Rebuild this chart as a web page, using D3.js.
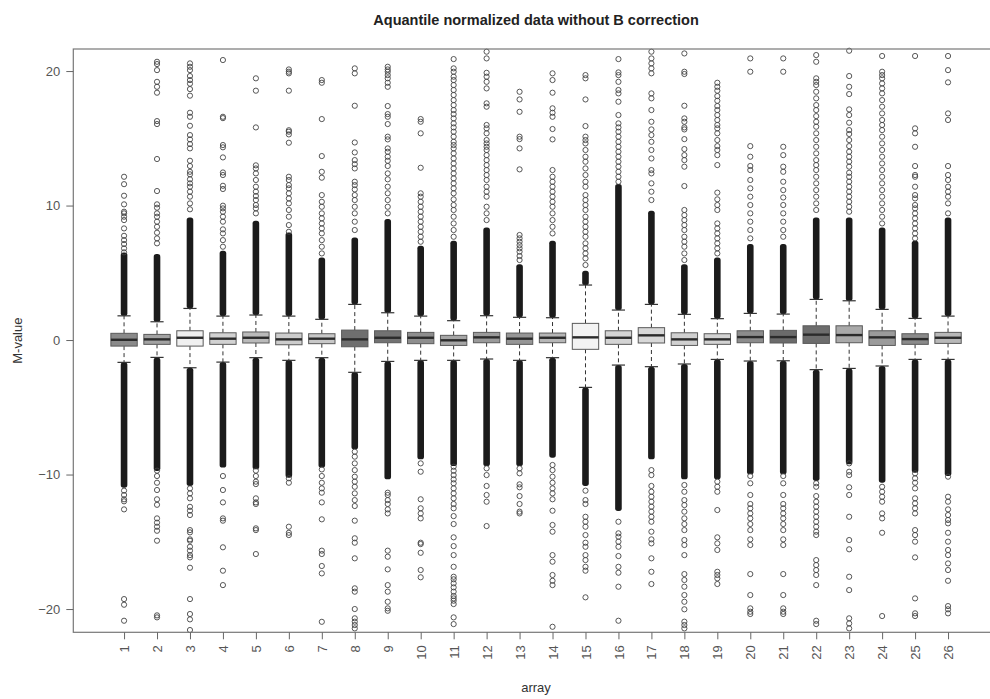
<!DOCTYPE html>
<html>
<head>
<meta charset="utf-8">
<script src="https://cdn.jsdelivr.net/npm/d3@7"></script>
<style>
  html, body { margin: 0; padding: 0; background: #fff; }
  svg { display: block; font-family: "Liberation Sans", Arial, sans-serif; }
</style>
</head>
<body>
<svg id="chart" width="990" height="699"></svg>
<script>
// one box per array
const arrays = ["1","2","3","4","5","6","7","8","9","10","11","12","13",
                "14","15","16","17","18","19","20","21","22","23","24","25","26"];

const q1 = [-0.45,-0.32,-0.45,-0.32,-0.22,-0.35,-0.27,-0.5,-0.2,-0.27,-0.4,-0.2,-0.32,
            -0.2,-0.69,-0.32,-0.22,-0.4,-0.32,-0.2,-0.22,-0.25,-0.2,-0.4,-0.32,-0.25];
const medians = [0.02,0.05,0.17,0.1,0.17,0.05,0.1,0.05,0.17,0.17,-0.02,0.2,0.1,
                 0.17,0.2,0.17,0.35,0.05,0.05,0.22,0.22,0.4,0.37,0.2,0.07,0.17];
const q3 = [0.5,0.42,0.69,0.54,0.6,0.52,0.47,0.74,0.69,0.57,0.35,0.57,0.52,
            0.52,1.24,0.69,0.92,0.54,0.47,0.69,0.72,1.06,1.06,0.69,0.47,0.57];
const whiskerLow = [-1.66,-1.29,-2.06,-1.64,-1.31,-1.51,-1.31,-2.4,-1.59,-1.51,-1.51,-1.41,-1.51,
                    -1.31,-3.52,-1.86,-1.98,-1.78,-1.44,-1.56,-1.54,-2.2,-2.11,-1.93,-1.44,-1.44];
const whiskerHigh = [1.8,1.36,2.35,1.78,1.86,1.78,1.54,2.65,2.03,1.78,1.44,1.81,1.69,
                     1.66,4.09,2.23,2.65,1.91,1.59,1.98,1.93,3.02,2.92,2.28,1.61,1.78];

// where the outliers are so many that they merge into a solid column
const denseHigh = [6.32,6.2,8.92,6.44,8.67,7.81,5.95,7.43,8.8,6.82,7.19,8.18,5.45,
                   7.19,4.96,11.4,9.42,5.45,5.95,6.94,6.94,8.92,8.92,8.18,7.19,8.92];
const denseLow = [-10.78,-9.54,-10.65,-9.29,-9.42,-10.04,-9.29,-7.93,-10.16,-8.67,-9.17,-9.17,-9.17,
                  -8.55,-10.65,-12.51,-8.67,-10.16,-10.16,-9.79,-9.79,-10.28,-9.05,-10.41,-9.67,-9.91];

// the single outliers beyond the solid columns
const outliersHigh = [
  [12.14,11.59,10.73,10.09,9.54,9.42,9.17,8.92,8.3,7.75,7.43,7.14,6.82,6.52],
  [20.69,20.52,20.07,19.2,18.83,18.39,16.28,16.06,13.46,11.08,10.09,9.84,9.42,9.17,8.8,8.42,7.98,7.56,7.19],
  [20.57,20.32,20.07,19.63,19.33,19.06,18.66,18.17,16.9,16.6,15.93,15.24,14.92,14.57,14.25,13.33,12.94,12.51,12.32,11.95,11.65,11.4,11.03,10.66,10.16,9.72],
  [20.82,16.6,16.5,14.5,14.33,13.58,12.46,12.27,11.47,11.23,9.99,9.79,9.54,9.17,8.8,8.23,7.93,7.43,6.94],
  [19.46,18.54,15.81,12.99,12.76,12.39,11.9,11.4,11.03,10.71,10.41,10.04,9.79,9.42],
  [20.12,19.95,19.83,18.54,15.6,15.49,15.29,14.67,12.14,11.9,11.52,11.28,10.91,10.53,10.16,9.67,9.17,8.55,8.05],
  [19.33,19.13,16.43,13.68,12.51,12.07,10.78,10.28,9.91,9.42,9.05,8.67,8.3,7.93,7.43,6.94,6.44],
  [20.2,19.83,17.42,14.69,13.95,13.38,13.08,12.76,11.77,11.52,11.2,10.78,10.41,9.91,9.42,8.8,8.18],
  [20.32,20.12,19.95,19.7,19.46,19.13,18.83,17.4,16.8,16.6,16.06,15.12,14.92,14.25,14.0,13.63,13.33,12.94,12.39,11.95,11.4,10.91,10.41,9.91,9.42],
  [16.43,16.23,15.37,12.81,10.91,10.66,10.28,9.91,9.54,9.17,8.8,8.42,8.05,7.68,7.31],
  [20.89,20.2,19.95,19.58,19.33,18.96,18.59,18.22,17.84,17.47,17.1,16.8,16.48,16.11,15.81,15.49,15.12,14.74,14.5,14.25,13.88,13.5,13.13,12.76,12.39,12.02,11.65,11.28,10.91,10.46,10.04,9.67,9.17,8.67,8.18,7.68],
  [21.44,20.94,19.87,19.58,19.2,18.71,17.6,17.35,15.99,15.74,15.37,14.87,14.62,14.37,14.13,13.75,13.38,13.01,12.64,12.27,11.9,11.4,11.03,10.66,9.91,9.42,8.92],
  [18.46,17.89,16.97,15.12,14.94,14.25,12.69,7.81,7.56,7.31,7.06,6.82,6.57,6.25,5.95],
  [19.83,19.33,18.39,17.23,16.9,16.6,15.69,14.92,12.64,12.14,11.77,11.4,11.03,10.66,10.28,9.91,9.42,8.92,8.42,7.93],
  [19.7,19.46,17.89,15.91,15.12,14.87,14.62,14.13,13.63,13.26,12.76,12.27,11.77,11.4,10.78,10.41,10.04,9.67,9.17,8.8,8.42,8.05,7.68,7.19,6.82,6.44,6.07,5.58],
  [20.89,19.9,19.7,19.2,18.59,18.34,17.72,16.73,16.11,15.81,15.49,15.12,14.74,14.37,14.0,13.63,13.26,12.89,12.51,12.14,11.77],
  [21.44,20.94,20.57,20.2,19.83,18.34,17.97,17.1,16.23,15.66,15.24,14.74,14.13,13.5,12.64,12.39,11.65,11.03,10.41],
  [21.31,19.95,19.78,17.42,16.48,16.23,15.81,15.66,14.94,14.2,13.75,13.38,12.89,11.45,9.67,9.29,8.92,8.55,8.18,7.68,7.31,6.94,6.44,5.95],
  [19.13,18.83,18.54,18.14,17.79,17.4,17.1,16.73,16.36,15.99,15.74,15.37,14.87,14.42,14.13,13.75,13.01,10.96,10.46,10.04,9.67,8.67,8.3,7.93,7.56,7.19,6.82,6.44],
  [20.94,19.95,14.42,13.63,12.94,12.64,11.9,11.28,10.66,10.04,9.42,8.8,8.18,7.56],
  [20.94,19.95,14.37,13.75,12.89,12.51,11.77,11.15,10.6,10.04,9.42,8.8,8.18,7.68],
  [21.19,20.69,19.46,19.2,18.96,18.46,17.97,17.47,17.1,16.65,16.23,15.86,15.37,14.87,14.37,13.88,13.38,13.01,12.64,12.14,11.65,11.15,10.66,10.16,9.67],
  [21.51,19.63,18.83,18.29,17.15,16.73,16.16,15.61,15.32,14.87,14.42,14.0,13.63,13.26,12.89,12.44,12.14,11.77,11.4,11.03,10.66,10.28,9.91,9.54],
  [21.12,19.95,19.7,19.46,19.08,18.71,18.34,17.84,17.35,16.85,16.36,15.99,15.61,15.12,14.62,14.13,13.63,13.13,12.64,12.14,11.65,11.15,10.66,10.16,9.67,9.17,8.67],
  [21.12,15.74,15.37,14.37,12.94,12.27,12.14,11.4,10.78,10.53,10.04,9.79,9.42,9.05,8.67,8.3,7.93,7.56],
  [21.12,20.07,19.16,16.85,16.36,12.94,12.27,11.9,11.4,11.03,10.66,10.16,9.42]
];
const outliersLow = [
  [-11.2,-11.52,-11.84,-11.99,-12.59,-19.26,-19.68,-20.87],
  [-9.71,-10.11,-10.61,-11.15,-11.84,-12.25,-13.26,-13.58,-13.88,-14.18,-14.92,-20.47,-20.62],
  [-11.03,-11.4,-11.77,-12.4,-12.69,-13.01,-14.13,-14.3,-14.82,-14.92,-15.37,-15.66,-15.99,-16.16,-16.93,-19.26,-20.37,-20.77,-21.56],
  [-10.11,-11.15,-12.07,-13.26,-13.43,-15.41,-17.15,-18.22],
  [-9.71,-10.11,-10.53,-10.71,-11.77,-12.07,-12.19,-14.0,-14.13,-15.91],
  [-10.28,-10.61,-13.88,-14.33,-14.5],
  [-9.62,-10.11,-10.61,-11.03,-11.35,-12.07,-13.33,-15.66,-15.91,-16.8,-17.35,-20.95],
  [-8.3,-8.67,-9.17,-9.67,-10.16,-10.53,-10.91,-11.4,-11.9,-12.34,-13.43,-14.74,-15.07,-16.23,-18.46,-18.71,-20.0,-20.69,-20.94,-21.19,-21.44],
  [-11.35,-11.52,-11.9,-12.19,-12.59,-12.89,-15.66,-16.11,-17.05,-18.22,-18.71,-19.46,-19.95,-20.13],
  [-9.17,-9.79,-11.84,-12.51,-12.89,-13.26,-15.07,-15.17,-15.82,-17.1,-17.64],
  [-9.42,-9.72,-10.04,-10.36,-10.65,-11.03,-11.4,-11.77,-12.19,-12.51,-13.09,-13.68,-14.67,-15.32,-15.99,-16.86,-17.6,-17.79,-18.09,-18.39,-18.71,-19.03,-19.21,-19.38,-19.63,-20.62,-21.12],
  [-9.54,-10.04,-10.85,-11.52,-12.02,-13.83],
  [-9.54,-9.91,-10.73,-10.95,-11.6,-12.19,-12.76,-12.89],
  [-9.29,-9.67,-10.16,-10.61,-11.03,-11.4,-11.84,-12.69,-13.75,-14.25,-15.99,-16.48,-17.47,-17.9,-18.22,-21.32],
  [-11.2,-11.9,-12.19,-13.14,-13.51,-13.88,-14.5,-15.07,-15.37,-15.99,-16.36,-16.86,-17.15,-19.13],
  [-13.51,-14.37,-14.62,-14.99,-15.37,-16.06,-16.86,-17.3,-18.34,-20.87],
  [-9.67,-10.04,-10.85,-11.28,-11.65,-12.02,-12.39,-12.76,-13.14,-13.51,-14.25,-14.82,-15.12,-16.23,-17.23,-18.14],
  [-10.78,-11.28,-11.9,-12.27,-12.76,-13.26,-13.68,-14.13,-14.87,-15.24,-15.99,-17.4,-17.84,-18.34,-18.96,-19.46,-20.02,-20.94,-21.19,-21.44],
  [-10.53,-10.91,-11.28,-12.64,-14.67,-15.12,-15.61,-17.23,-17.47,-17.72,-18.14],
  [-10.11,-10.65,-11.52,-12.19,-12.51,-12.89,-13.26,-13.68,-14.13,-14.82,-15.24,-17.4,-18.96,-19.95,-20.2,-20.37],
  [-10.11,-10.65,-11.52,-12.19,-12.51,-12.89,-13.26,-13.68,-14.13,-14.82,-15.24,-17.4,-18.96,-19.95,-20.2,-20.37],
  [-10.65,-10.91,-11.6,-12.02,-12.39,-12.76,-13.14,-13.51,-13.88,-14.25,-14.5,-16.36,-16.73,-17.1,-17.47,-18.22,-20.87,-21.12],
  [-9.17,-9.79,-10.04,-10.95,-11.52,-13.14,-14.87,-15.56,-17.6,-18.59,-20.69,-21.07,-21.44],
  [-10.91,-11.28,-11.65,-12.02,-12.89,-13.26,-14.33,-20.52],
  [-9.91,-10.28,-10.61,-11.03,-11.77,-12.14,-12.51,-12.89,-14.13,-14.5,-14.99,-16.16,-19.21,-20.32,-20.52],
  [-10.16,-11.65,-12.02,-12.59,-13.01,-13.38,-13.63,-14.33,-14.99,-15.61,-15.99,-16.61,-17.1,-17.9,-19.78,-20.02,-20.32]
];

const yTicks = [-20, -10, 0, 10, 20];

// grey level of each box
const boxGreys = ["#8a8a8a","#a2a2a2","#f0f0f0","#d2d2d2","#bababa","#cccccc","#c8c8c8","#6f6f6f","#727272",
                  "#8e8e8e","#a6a6a6","#9a9a9a","#969696","#b6b6b6","#f3f3f3","#d4d4d4","#d8d8d8","#d0d0d0",
                  "#d2d2d2","#8c8c8c","#6b6b6b","#6d6d6d","#a9a9a9","#9b9b9b","#8a8a8a","#b8b8b8"];

const svg = d3.select("#chart");
const margins = {left: 73.3, top: 49, bottom: 632.3, right: 998.8};

// R style: positions 1..n, range padded by 4% each side
const n = arrays.length;
const pad = n * 0.04;
const x = d3.scaleLinear()
    .domain([0.5 - pad, n + 0.5 + pad])
    .range([margins.left, margins.right]);
const y = d3.scaleLinear()
    .domain([-21.73, 21.64])
    .range([margins.bottom, margins.top]);

const unit = x(2) - x(1);
const boxHalf = unit * 0.4;
const capHalf = boxHalf * 0.5;
const r = 2.6;

const rows = arrays.map((name, i) => ({
    name: name,
    pos: i + 1,
    q1: q1[i], med: medians[i], q3: q3[i],
    lo: whiskerLow[i], hi: whiskerHigh[i],
    denseLo: denseLow[i], denseHi: denseHigh[i],
    outHi: outliersHigh[i], outLo: outliersLow[i],
    fill: boxGreys[i]
}));

const plot = svg.append("g");

// solid columns of overlapping outliers
plot.selectAll("rect.dense-hi")
    .data(rows)
    .enter()
    .append("rect")
    .attr("class", "dense-hi")
    .attr("x", d => x(d.pos) - r - 0.7)
    .attr("width", 2 * r + 1.4)
    .attr("y", d => y(d.denseHi) - r)
    .attr("height", d => y(d.hi) - y(d.denseHi) + r)
    .attr("rx", r)
    .style("fill", "#1b1b1b");

plot.selectAll("rect.dense-lo")
    .data(rows)
    .enter()
    .append("rect")
    .attr("class", "dense-lo")
    .attr("x", d => x(d.pos) - r - 0.7)
    .attr("width", 2 * r + 1.4)
    .attr("y", d => y(d.lo))
    .attr("height", d => y(d.denseLo) - y(d.lo) + r)
    .attr("rx", r)
    .style("fill", "#1b1b1b");

// single outliers
const points = rows.flatMap(d =>
    d.outHi.concat(d.outLo).map(v => ({pos: d.pos, v: v})));

plot.selectAll("circle.out")
    .data(points)
    .enter()
    .append("circle")
    .attr("class", "out")
    .attr("cx", d => x(d.pos))
    .attr("cy", d => y(d.v))
    .attr("r", r)
    .style("fill", "none")
    .style("stroke", "#444")
    .style("stroke-width", 0.9);

// whiskers
const whisk = plot.selectAll("g.whisker")
    .data(rows)
    .enter()
    .append("g")
    .attr("class", "whisker");

whisk.append("line")
    .attr("x1", d => x(d.pos)).attr("x2", d => x(d.pos))
    .attr("y1", d => y(d.q3)).attr("y2", d => y(d.hi))
    .style("stroke", "#333").style("stroke-dasharray", "4,3");
whisk.append("line")
    .attr("x1", d => x(d.pos)).attr("x2", d => x(d.pos))
    .attr("y1", d => y(d.q1)).attr("y2", d => y(d.lo))
    .style("stroke", "#333").style("stroke-dasharray", "4,3");
whisk.append("line")
    .attr("x1", d => x(d.pos) - capHalf).attr("x2", d => x(d.pos) + capHalf)
    .attr("y1", d => y(d.hi)).attr("y2", d => y(d.hi))
    .style("stroke", "#333").style("stroke-width", 1.2);
whisk.append("line")
    .attr("x1", d => x(d.pos) - capHalf).attr("x2", d => x(d.pos) + capHalf)
    .attr("y1", d => y(d.lo)).attr("y2", d => y(d.lo))
    .style("stroke", "#333").style("stroke-width", 1.2);

// boxes and medians
plot.selectAll("rect.box")
    .data(rows)
    .enter()
    .append("rect")
    .attr("class", "box")
    .attr("x", d => x(d.pos) - boxHalf)
    .attr("width", boxHalf * 2)
    .attr("y", d => y(d.q3))
    .attr("height", d => y(d.q1) - y(d.q3))
    .style("fill", d => d.fill)
    .style("stroke", "#5a5a5a")
    .style("stroke-width", 1);

plot.selectAll("line.median")
    .data(rows)
    .enter()
    .append("line")
    .attr("class", "median")
    .attr("x1", d => x(d.pos) - boxHalf).attr("x2", d => x(d.pos) + boxHalf)
    .attr("y1", d => y(d.med)).attr("y2", d => y(d.med))
    .style("stroke", "#2b2b2b")
    .style("stroke-width", 2.4);

// frame
svg.append("rect")
    .attr("x", margins.left)
    .attr("y", margins.top)
    .attr("width", margins.right - margins.left)
    .attr("height", margins.bottom - margins.top)
    .style("fill", "none")
    .style("stroke", "#777")
    .style("stroke-width", 1.2);

// axes
const yAxis = svg.append("g")
    .attr("transform", `translate(${margins.left},0)`)
    .call(d3.axisLeft(y).tickValues(yTicks).tickSize(7).tickPadding(6));
yAxis.select(".domain").remove();

const xAxis = svg.append("g")
    .attr("transform", `translate(0,${margins.bottom})`)
    .call(d3.axisBottom(x).tickValues(rows.map(d => d.pos))
        .tickFormat(p => arrays[p - 1]).tickSize(7));
xAxis.select(".domain").remove();
xAxis.selectAll("text")
    .attr("transform", "rotate(-90)")
    .attr("x", -13)
    .attr("y", 0)
    .attr("dy", "0.35em")
    .style("text-anchor", "end");

svg.selectAll(".tick line").style("stroke", "#666");
svg.selectAll(".tick text")
    .style("fill", "#555")
    .style("font-size", "13px")
    .style("font-family", "\"Liberation Sans\", Arial, sans-serif");

// titles
svg.append("text")
    .attr("x", (margins.left + margins.right) / 2)
    .attr("y", 25)
    .attr("text-anchor", "middle")
    .style("font-weight", "bold")
    .style("font-size", "14.5px")
    .style("fill", "#222")
    .text("Aquantile normalized data without B correction");

svg.append("text")
    .attr("x", (margins.left + margins.right) / 2)
    .attr("y", 692)
    .attr("text-anchor", "middle")
    .style("font-size", "13px")
    .style("fill", "#333")
    .text("array");

svg.append("text")
    .attr("transform", `translate(22,${(margins.top + margins.bottom) / 2}) rotate(-90)`)
    .attr("text-anchor", "middle")
    .style("font-size", "13px")
    .style("fill", "#333")
    .text("M-value");
</script>
</body>
</html>
